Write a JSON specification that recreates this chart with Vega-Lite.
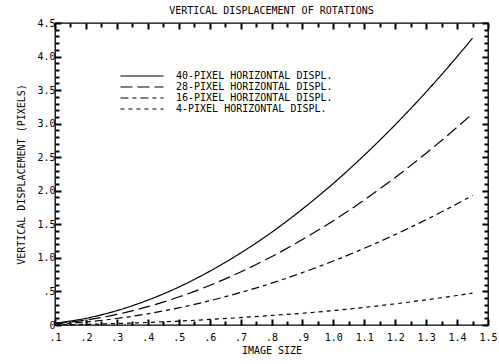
{
  "$schema": "https://vega.github.io/schema/vega-lite/v6.json",
  "autosize": "none",
  "width": 433,
  "height": 302,
  "padding": {"left": 55, "top": 23, "right": 11, "bottom": 39},
  "background": "white",
  "title": {"text": "VERTICAL DISPLACEMENT OF ROTATIONS", "font": "DejaVu Sans Mono", "fontSize": 10, "fontWeight": "normal", "color": "black", "offset": 2, "anchor": "middle"},
  "config": {
    "view": {"stroke": "black", "strokeWidth": 1.3},
    "axis": {"domain": false, "grid": false, "labelColor": "black", "labelFont": "DejaVu Sans Mono", "labelFontSize": 10, "titleFont": "DejaVu Sans Mono", "titleFontSize": 10, "titleFontWeight": "normal", "titleColor": "black"}
  },
  "data": {"values": [
    {"s": "40-PIXEL HORIZONTAL DISPL.", "x": 0.1, "y": 0.027}, {"s": "40-PIXEL HORIZONTAL DISPL.", "x": 0.2, "y": 0.099}, {"s": "40-PIXEL HORIZONTAL DISPL.", "x": 0.3, "y": 0.214}, {"s": "40-PIXEL HORIZONTAL DISPL.", "x": 0.4, "y": 0.37}, {"s": "40-PIXEL HORIZONTAL DISPL.", "x": 0.5, "y": 0.565}, {"s": "40-PIXEL HORIZONTAL DISPL.", "x": 0.6, "y": 0.8}, {"s": "40-PIXEL HORIZONTAL DISPL.", "x": 0.7, "y": 1.072}, {"s": "40-PIXEL HORIZONTAL DISPL.", "x": 0.8, "y": 1.38}, {"s": "40-PIXEL HORIZONTAL DISPL.", "x": 0.9, "y": 1.728}, {"s": "40-PIXEL HORIZONTAL DISPL.", "x": 1.0, "y": 2.11}, {"s": "40-PIXEL HORIZONTAL DISPL.", "x": 1.1, "y": 2.53}, {"s": "40-PIXEL HORIZONTAL DISPL.", "x": 1.2, "y": 2.984}, {"s": "40-PIXEL HORIZONTAL DISPL.", "x": 1.3, "y": 3.473}, {"s": "40-PIXEL HORIZONTAL DISPL.", "x": 1.4, "y": 3.998}, {"s": "40-PIXEL HORIZONTAL DISPL.", "x": 1.45, "y": 4.275},
    {"s": "28-PIXEL HORIZONTAL DISPL.", "x": 0.1, "y": 0.02}, {"s": "28-PIXEL HORIZONTAL DISPL.", "x": 0.2, "y": 0.073}, {"s": "28-PIXEL HORIZONTAL DISPL.", "x": 0.3, "y": 0.158}, {"s": "28-PIXEL HORIZONTAL DISPL.", "x": 0.4, "y": 0.273}, {"s": "28-PIXEL HORIZONTAL DISPL.", "x": 0.5, "y": 0.417}, {"s": "28-PIXEL HORIZONTAL DISPL.", "x": 0.6, "y": 0.589}, {"s": "28-PIXEL HORIZONTAL DISPL.", "x": 0.7, "y": 0.79}, {"s": "28-PIXEL HORIZONTAL DISPL.", "x": 0.8, "y": 1.017}, {"s": "28-PIXEL HORIZONTAL DISPL.", "x": 0.9, "y": 1.274}, {"s": "28-PIXEL HORIZONTAL DISPL.", "x": 1.0, "y": 1.555}, {"s": "28-PIXEL HORIZONTAL DISPL.", "x": 1.1, "y": 1.864}, {"s": "28-PIXEL HORIZONTAL DISPL.", "x": 1.2, "y": 2.199}, {"s": "28-PIXEL HORIZONTAL DISPL.", "x": 1.3, "y": 2.56}, {"s": "28-PIXEL HORIZONTAL DISPL.", "x": 1.4, "y": 2.947}, {"s": "28-PIXEL HORIZONTAL DISPL.", "x": 1.45, "y": 3.15},
    {"s": "16-PIXEL HORIZONTAL DISPL.", "x": 0.1, "y": 0.012}, {"s": "16-PIXEL HORIZONTAL DISPL.", "x": 0.2, "y": 0.045}, {"s": "16-PIXEL HORIZONTAL DISPL.", "x": 0.3, "y": 0.097}, {"s": "16-PIXEL HORIZONTAL DISPL.", "x": 0.4, "y": 0.167}, {"s": "16-PIXEL HORIZONTAL DISPL.", "x": 0.5, "y": 0.255}, {"s": "16-PIXEL HORIZONTAL DISPL.", "x": 0.6, "y": 0.361}, {"s": "16-PIXEL HORIZONTAL DISPL.", "x": 0.7, "y": 0.484}, {"s": "16-PIXEL HORIZONTAL DISPL.", "x": 0.8, "y": 0.623}, {"s": "16-PIXEL HORIZONTAL DISPL.", "x": 0.9, "y": 0.781}, {"s": "16-PIXEL HORIZONTAL DISPL.", "x": 1.0, "y": 0.953}, {"s": "16-PIXEL HORIZONTAL DISPL.", "x": 1.1, "y": 1.143}, {"s": "16-PIXEL HORIZONTAL DISPL.", "x": 1.2, "y": 1.348}, {"s": "16-PIXEL HORIZONTAL DISPL.", "x": 1.3, "y": 1.569}, {"s": "16-PIXEL HORIZONTAL DISPL.", "x": 1.4, "y": 1.806}, {"s": "16-PIXEL HORIZONTAL DISPL.", "x": 1.45, "y": 1.93},
    {"s": "4-PIXEL HORIZONTAL DISPL.", "x": 0.1, "y": 0.003}, {"s": "4-PIXEL HORIZONTAL DISPL.", "x": 0.2, "y": 0.01}, {"s": "4-PIXEL HORIZONTAL DISPL.", "x": 0.3, "y": 0.022}, {"s": "4-PIXEL HORIZONTAL DISPL.", "x": 0.4, "y": 0.038}, {"s": "4-PIXEL HORIZONTAL DISPL.", "x": 0.5, "y": 0.058}, {"s": "4-PIXEL HORIZONTAL DISPL.", "x": 0.6, "y": 0.083}, {"s": "4-PIXEL HORIZONTAL DISPL.", "x": 0.7, "y": 0.11}, {"s": "4-PIXEL HORIZONTAL DISPL.", "x": 0.8, "y": 0.142}, {"s": "4-PIXEL HORIZONTAL DISPL.", "x": 0.9, "y": 0.175}, {"s": "4-PIXEL HORIZONTAL DISPL.", "x": 1.0, "y": 0.215}, {"s": "4-PIXEL HORIZONTAL DISPL.", "x": 1.1, "y": 0.262}, {"s": "4-PIXEL HORIZONTAL DISPL.", "x": 1.2, "y": 0.315}, {"s": "4-PIXEL HORIZONTAL DISPL.", "x": 1.3, "y": 0.375}, {"s": "4-PIXEL HORIZONTAL DISPL.", "x": 1.4, "y": 0.44}, {"s": "4-PIXEL HORIZONTAL DISPL.", "x": 1.45, "y": 0.475}
  ]},
  "resolve": {"axis": {"x": "independent", "y": "independent"}},
  "layer": [
    {
      "mark": {"type": "line", "color": "black", "strokeWidth": 1.2, "interpolate": "monotone"},
      "encoding": {
        "x": {"field": "x", "type": "quantitative", "scale": {"domain": [0.1, 1.5], "nice": false, "zero": false},
          "axis": {"orient": "bottom", "title": "IMAGE SIZE", "values": [0.1,0.2,0.3,0.4,0.5,0.6,0.7,0.8,0.9,1.0,1.1,1.2,1.3,1.4,1.5], "ticks": true, "tickColor": "#000000", "tickWidth": 2, "offset": -6, "tickSize": 6, "labelPadding": 7, "titlePadding": 3, "labelFlush": false, "labelExpr": "datum.value < 1 ? slice(format(datum.value, '.1f'), 1) : format(datum.value, '.1f')"}},
        "y": {"field": "y", "type": "quantitative", "scale": {"domain": [0, 4.5], "nice": false},
          "axis": {"orient": "left", "title": "VERTICAL DISPLACEMENT (PIXELS)", "values": [0,0.5,1,1.5,2,2.5,3,3.5,4,4.5], "ticks": true, "tickColor": "#000000", "tickWidth": 2, "offset": -6, "tickSize": 6, "labelPadding": 0, "titlePadding": 10, "labelFlush": false, "labelExpr": "datum.value == 0 ? '0' : datum.value < 1 ? slice(format(datum.value, '.1f'), 1) : format(datum.value, '.1f')"}},
        "strokeDash": {"field": "s", "type": "nominal",
          "scale": {"domain": ["40-PIXEL HORIZONTAL DISPL.", "28-PIXEL HORIZONTAL DISPL.", "16-PIXEL HORIZONTAL DISPL.", "4-PIXEL HORIZONTAL DISPL."], "range": [[1, 0], [12, 5], [8, 4, 4, 4], [4, 4]]},
          "legend": {"orient": "none", "legendX": 81, "legendY": 47, "title": null, "symbolType": "M-4,0H4", "symbolSize": 116, "symbolStrokeColor": "black", "symbolStrokeWidth": 1.2, "labelFont": "DejaVu Sans Mono", "labelFontSize": 10, "labelColor": "black", "labelOffset": 28, "rowPadding": 0, "padding": 0}}
      }
    },
    {
      "mark": {"type": "line", "opacity": 0},
      "encoding": {
        "x": {"field": "x", "type": "quantitative", "axis": {"orient": "bottom", "title": null, "labels": false, "values": [0.15,0.25,0.35,0.45,0.55,0.65,0.75,0.85,0.95,1.05,1.15,1.25,1.35,1.45], "ticks": true, "tickColor": "#000000", "tickWidth": 2, "offset": -4, "tickSize": 4}},
        "y": {"field": "y", "type": "quantitative", "axis": {"orient": "left", "title": null, "labels": false, "values": [0.1,0.2,0.3,0.4,0.6,0.7,0.8,0.9,1.1,1.2,1.3,1.4,1.6,1.7,1.8,1.9,2.1,2.2,2.3,2.4,2.6,2.7,2.8,2.9,3.1,3.2,3.3,3.4,3.6,3.7,3.8,3.9,4.1,4.2,4.3,4.4], "ticks": true, "tickColor": "#000000", "tickWidth": 2, "offset": -4, "tickSize": 4}},
        "detail": {"field": "s", "type": "nominal"}
      }
    },
    {
      "mark": {"type": "line", "opacity": 0},
      "encoding": {
        "x": {"field": "x", "type": "quantitative", "axis": {"orient": "top", "title": null, "labels": false, "values": [0.1,0.2,0.3,0.4,0.5,0.6,0.7,0.8,0.9,1.0,1.1,1.2,1.3,1.4,1.5], "ticks": true, "tickColor": "#000000", "tickWidth": 2, "offset": -6, "tickSize": 6}},
        "y": {"field": "y", "type": "quantitative", "axis": {"orient": "right", "title": null, "labels": false, "values": [0,0.5,1,1.5,2,2.5,3,3.5,4,4.5], "ticks": true, "tickColor": "#000000", "tickWidth": 2, "offset": -6, "tickSize": 6}},
        "detail": {"field": "s", "type": "nominal"}
      }
    },
    {
      "mark": {"type": "line", "opacity": 0},
      "encoding": {
        "x": {"field": "x", "type": "quantitative", "axis": {"orient": "top", "title": null, "labels": false, "values": [0.15,0.25,0.35,0.45,0.55,0.65,0.75,0.85,0.95,1.05,1.15,1.25,1.35,1.45], "ticks": true, "tickColor": "#000000", "tickWidth": 2, "offset": -4, "tickSize": 4}},
        "y": {"field": "y", "type": "quantitative", "axis": {"orient": "right", "title": null, "labels": false, "values": [0.1,0.2,0.3,0.4,0.6,0.7,0.8,0.9,1.1,1.2,1.3,1.4,1.6,1.7,1.8,1.9,2.1,2.2,2.3,2.4,2.6,2.7,2.8,2.9,3.1,3.2,3.3,3.4,3.6,3.7,3.8,3.9,4.1,4.2,4.3,4.4], "ticks": true, "tickColor": "#000000", "tickWidth": 2, "offset": -4, "tickSize": 4}},
        "detail": {"field": "s", "type": "nominal"}
      }
    }
  ]
}
